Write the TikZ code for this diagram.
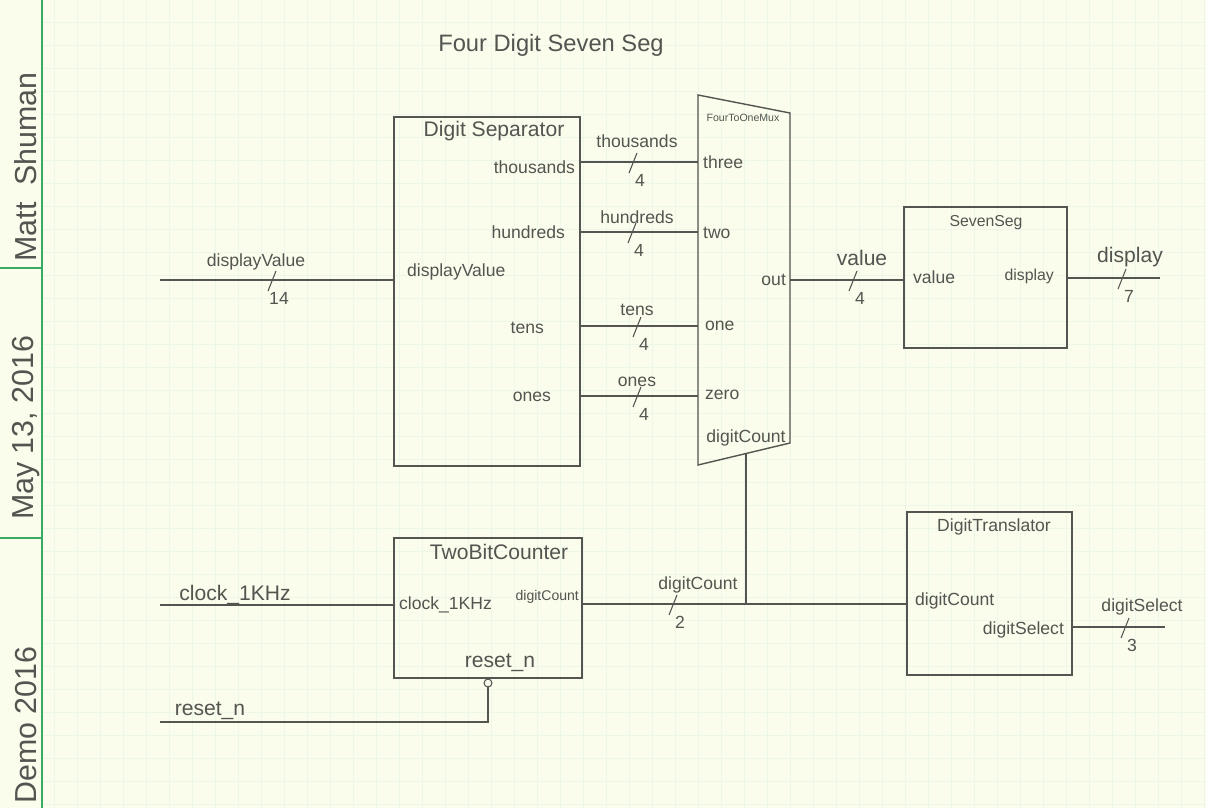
\documentclass[tikz,border=0pt]{standalone}
\usepackage{fontspec}
\setmainfont{Liberation Sans}
\usepackage{xcolor}
\usepackage{tikz}
\usetikzlibrary{positioning}

\definecolor{paper}{RGB}{250,253,236}
\definecolor{pencil}{RGB}{84,84,80}
\definecolor{marginline}{RGB}{56,170,100}
\definecolor{gridgreen}{RGB}{236,247,233}

\begin{document}
\begin{tikzpicture}[
        x=0.02cm, y=-0.02cm,
        block/.style={
            draw=pencil,
            thick,
            inner sep=0pt
        },
        lbl/.style={text=pencil, inner sep=1pt, font=\normalsize},
        small/.style={lbl, font=\small},
        wire/.style={draw=pencil, semithick},
        note/.style={text=pencil, font=\LARGE, rotate=90},
        pics/bus/.style={code={
            \draw[wire] (-4,11) -- (4,-9);
            \node[lbl] (-num) at (7,18) {#1};
        }}
    ]
        % paper
        \useasboundingbox (0,0) rectangle (1206,808);
        \fill[paper] (0,0) rectangle (1206,808);
        \foreach \gx in {54,77,...,1206}
            \draw[gridgreen, very thin] (\gx,0) -- (\gx,808);
        \foreach \gy in {22,45,...,808}
            \draw[gridgreen, very thin] (43,\gy) -- (1206,\gy);
        \draw[marginline, semithick] (42,0) -- (42,808);
        \draw[marginline, semithick] (0,268) -- (42,268);
        \draw[marginline, semithick] (0,538) -- (42,538);
        \node[note] (author) at (26,167) {Matt\ \ Shuman};
        \node[note] (date) at (26,428) {May 13, 2016};
        \node[note] (demo) at (26,725) {Demo 2016};

        \node[lbl, font=\fontsize{13.5}{16}\selectfont] (title) at (551,45) {Four Digit Seven Seg};

        % blocks
        \node[block, minimum width=3.72cm, minimum height=6.98cm] (sep) at (487,291.5) {};
        \node[block, minimum width=3.26cm, minimum height=2.82cm] (seg) at (985.5,277.5) {};
        \node[block, minimum width=3.76cm, minimum height=2.8cm] (cnt) at (488,608) {};
        \node[block, minimum width=3.3cm, minimum height=3.26cm] (trans) at (989.5,593.5) {};
        \coordinate (muxTL) at (698,95);
        \coordinate (muxTR) at (790,113);
        \coordinate (muxBR) at (790,443);
        \coordinate (muxBL) at (698,465);
        \draw[pencil, thick] (muxTL) -- (muxTR) -- (muxBR) -- (muxBL) -- cycle;
        \node[circle, draw=pencil, semithick, minimum size=4.5pt, inner sep=0pt] (rstBubble) at (488,683) {};

        % block texts
        \node[lbl, font=\large] (sepName) at (494,131) {Digit Separator};
        \node[lbl, anchor=east] (sepThousands) at (577,167) {thousands};
        \node[lbl, anchor=east] (sepHundreds) at (567,232) {hundreds};
        \node[lbl, anchor=east] (sepTens) at (546,328) {tens};
        \node[lbl, anchor=east] (sepOnes) at (553,397) {ones};
        \node[lbl, anchor=west] (sepValue) at (405,272) {displayValue};

        \node[lbl, font=\fontsize{6}{7}\selectfont] (muxName) at (743,118) {FourToOneMux};
        \node[lbl, anchor=west] (muxThree) at (701,162) {three};
        \node[lbl, anchor=west] (muxTwo) at (701,233) {two};
        \node[lbl, anchor=east] (muxOut) at (788,280) {out};
        \node[lbl, anchor=west] (muxOne) at (703,326) {one};
        \node[lbl, anchor=west] (muxZero) at (703,395) {zero};
        \node[lbl] (muxSel) at (746,438) {digitCount};

        \node[small] (segName) at (986,223) {SevenSeg};
        \node[lbl, anchor=west] (segValue) at (911,277) {value};
        \node[small, anchor=east] (segDisplay) at (1056,276) {display};

        \node[lbl, font=\large] (cntName) at (499,552) {TwoBitCounter};
        \node[lbl, anchor=west] (cntClock) at (397,605) {clock\_1KHz};
        \node[lbl, font=\footnotesize, anchor=east] (cntCount) at (581,597) {digitCount};
        \node[lbl, font=\large] (cntReset) at (500,663) {reset\_n};

        \node[lbl] (transName) at (994,527) {DigitTranslator};
        \node[lbl, anchor=west] (transCount) at (913,601) {digitCount};
        \node[lbl, anchor=east] (transSelect) at (1066,630) {digitSelect};

        % free wire ends
        \coordinate (dvIn) at (160,280);
        \coordinate (clkIn) at (160,605);
        \coordinate (rstIn) at (160,722);
        \coordinate (dispOut) at (1160,278);
        \coordinate (selOut) at (1165,627);
        \coordinate (muxSelPin) at (746,453.5);
        \coordinate (cntJoin) at (746,604);

        % wires
        \draw[wire] (dvIn) -- (dvIn -| sep.west);
        \draw[wire] (sep.east |- 0,162) -- (muxTL |- 0,162);
        \draw[wire] (sep.east |- 0,232) -- (muxTL |- 0,232);
        \draw[wire] (sep.east |- 0,326) -- (muxTL |- 0,326);
        \draw[wire] (sep.east |- 0,396) -- (muxTL |- 0,396);
        \draw[wire] (muxTR |- 0,280) -- (seg.west |- 0,280);
        \draw[wire] (seg.east |- dispOut) -- (dispOut);
        \draw[wire] (clkIn) -- (clkIn -| cnt.west);
        \draw[wire] (rstIn) -| (rstBubble.south);
        \draw[wire] (cnt.east |- cntJoin) -- (trans.west |- cntJoin);
        \draw[wire] (muxSelPin) -- (cntJoin);
        \draw[wire] (trans.east |- selOut) -- (selOut);

        % wire names and bus widths
        \node[lbl] (dvName) at (256,262) {displayValue};
        \pic (dvBus) at (272,280) {bus=14};
        \node[lbl] (thName) at (637,141) {thousands};
        \pic (thBus) at (633,162) {bus=4};
        \node[lbl] (huName) at (637,217) {hundreds};
        \pic (huBus) at (632,232) {bus=4};
        \node[lbl] (teName) at (637,310) {tens};
        \pic (teBus) at (637,326) {bus=4};
        \node[lbl] (onName) at (637,382) {ones};
        \pic (onBus) at (637,396) {bus=4};
        \node[lbl, font=\large] (valName) at (862,258) {value};
        \pic (valBus) at (853,280) {bus=4};
        \node[lbl, font=\large] (dispName) at (1130,257) {display};
        \pic (dispBus) at (1122,278) {bus=7};
        \node[lbl, font=\large] (clkName) at (235,595) {clock\_1KHz};
        \node[lbl, font=\large] (rstName) at (210,711) {reset\_n};
        \node[lbl] (cntWireName) at (698,585) {digitCount};
        \pic (cntBus) at (673,604) {bus=2};
        \node[lbl] (selName) at (1142,607) {digitSelect};
        \pic (selBus) at (1125,627) {bus=3};
    \end{tikzpicture}
\end{document}
